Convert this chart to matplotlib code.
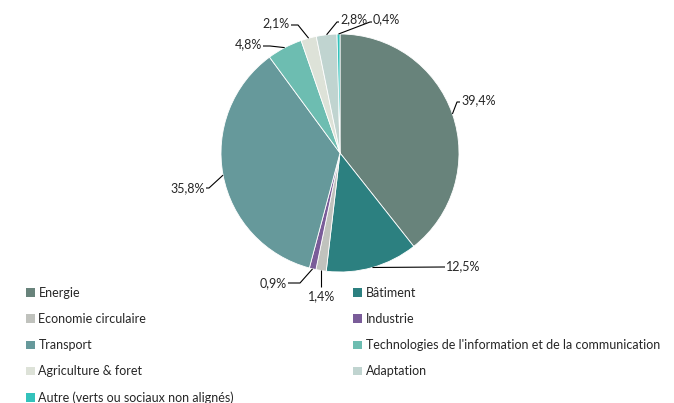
import numpy as np
import matplotlib
matplotlib.use("Agg")
import matplotlib.pyplot as plt
from matplotlib.patches import Patch

categories = ["Energie", "Bâtiment", "Economie circulaire", "Industrie", "Transport",
              "Technologies de l'information et de la communication",
              "Agriculture & foret", "Adaptation", "Autre (verts ou sociaux non alignés)"]
values = [39.4, 12.5, 1.4, 0.9, 35.8, 4.8, 2.1, 2.8, 0.4]
labels = ["39,4%", "12,5%", "1,4%", "0,9%", "35,8%", "4,8%", "2,1%", "2,8%", "0,4%"]
colors = ["#68837b", "#2c8080", "#c0c2bd", "#7a5c99", "#66999b",
          "#6dbdb1", "#dde2d8", "#c0d4d0", "#33c2bb"]

plt.rcParams['font.family'] = ['Lato', 'DejaVu Sans']

W, H = 674, 403
fig = plt.figure(figsize=(W / 100, H / 100), dpi=100)
ax = fig.add_axes([0, 0, 1, 1])

cx, cy, R = 340, H - 153, 119
wedges, _ = ax.pie(values, colors=colors, startangle=90, counterclock=False,
                   center=(cx, cy), radius=R, frame=True,
                   wedgeprops=dict(linewidth=0.6, edgecolor='white'))
ax.set_xlim(0, W)
ax.set_ylim(0, H)
ax.set_aspect('equal')
ax.axis('off')

# label layout in pixel coords (top-origin): (text x, text y, ha, elbow x, elbow y)
layout = [
    (461, 100, 'left', 457, 102),
    (446, 266, 'left', 444, 267),
    (322, 296, 'center', None, 287),
    (287, 283, 'right', 300, 283),
    (205, 188, 'right', 209, 188),
    (262, 44, 'right', 270, 46),
    (290, 23, 'right', 298, 25),
    (340, 19, 'left', 337, 22),
    (373, 19, 'left', 370, 22),
]

for w, lab, (tx, ty, ha, ex, ey) in zip(wedges, labels, layout):
    th = np.deg2rad((w.theta1 + w.theta2) / 2)
    px, py = cx + R * np.cos(th), cy + R * np.sin(th)
    if ex is None:
        ex = px
    xs = [px, ex]
    ys = [py, H - ey]
    if ha == 'left':
        xs.append(tx - 1)
        ys.append(H - ey)
    elif ha == 'right':
        xs.append(tx + 1)
        ys.append(H - ey)
    ax.plot(xs, ys, color='black', lw=0.8, solid_capstyle='butt')
    ax.text(tx, H - ty, lab, ha=ha, va='center', fontsize=9, color='#262626')

handles = [Patch(facecolor=c, edgecolor='none') for c in colors]
left_idx = [0, 2, 4, 6, 8]
right_idx = [1, 3, 5, 7]
common = dict(frameon=False, fontsize=9, handlelength=0.7, handleheight=0.7,
              handletextpad=0.3, labelspacing=1.13, borderaxespad=0,
              borderpad=0)
leg1 = ax.legend([handles[i] for i in left_idx], [categories[i] for i in left_idx],
                 loc='upper left', bbox_to_anchor=(26 / W, 1 - 287 / H), **common)
for t in leg1.get_texts():
    t.set_color('#262626')
ax.add_artist(leg1)
leg2 = ax.legend([handles[i] for i in right_idx], [categories[i] for i in right_idx],
                 loc='upper left', bbox_to_anchor=(353 / W, 1 - 287 / H), **common)
for t in leg2.get_texts():
    t.set_color('#262626')

fig.savefig("out.png", dpi=100)
